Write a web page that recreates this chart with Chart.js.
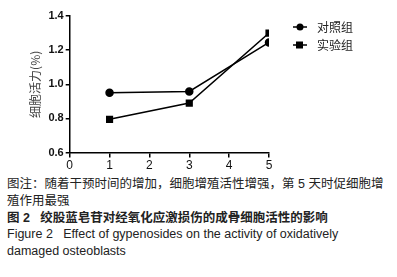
<!DOCTYPE html>
<html>
<head>
<meta charset="utf-8">
<script src="https://cdn.jsdelivr.net/npm/chart.js@4"></script>
<style>
  html, body { margin: 0; padding: 0; background: #fff; }
  body { width: 397px; height: 277px; overflow: hidden; }
  #wrap { position: relative; width: 397px; height: 174px; }
  .cap { font-family: "Liberation Sans", "Noto Sans CJK SC", sans-serif; font-size: 12.5px; color: #222; line-height: 16.8px; padding-left: 7px; width: 384px; }
</style>
</head>
<body>
<div id="wrap"><canvas id="c" width="397" height="174"></canvas></div>
<div class="cap" style="margin-top:2px">图注：随着干预时间的增加，细胞增殖活性增强，第 5 天时促细胞增殖作用最强</div>
<div class="cap" style="font-weight:bold">图 2&nbsp;&nbsp;&nbsp;绞股蓝皂苷对经氧化应激损伤的成骨细胞活性的影响</div>
<div class="cap">Figure 2&nbsp;&nbsp;&nbsp;Effect of gypenosides on the activity of oxidatively damaged osteoblasts</div>
<script>
const days = [1, 3, 5];
const seriesNames = ['对照组', '实验组'];
const control = [0.95, 0.958, 1.245];
const experiment = [0.795, 0.89, 1.30];
const xTicks = [0, 1, 2, 3, 4, 5];
const yTicks = [0.6, 0.8, 1.0, 1.2, 1.4];

function points(vals) {
    return days.map(function(d, i) { return { x: d, y: vals[i] }; });
}

const tickFont = { family: 'Liberation Sans', size: 11, weight: 'bold' };

// legend drawn with line through marker, like the original
const lineLegend = {
    id: 'lineLegend',
    afterDraw: function(chart) {
        const ctx = chart.ctx;
        const ds = chart.data.datasets;
        ctx.save();
        ds.forEach(function(d, i) {
            const y = 27 + i * 18;
            ctx.strokeStyle = '#000';
            ctx.lineWidth = 1.5;
            ctx.beginPath();
            ctx.moveTo(293, y);
            ctx.lineTo(307, y);
            ctx.stroke();
            ctx.fillStyle = '#000';
            if (d.pointStyle === 'rect') {
                ctx.fillRect(296, y - 3.5, 7, 7);
            } else {
                ctx.beginPath();
                ctx.arc(300, y, 3.5, 0, Math.PI * 2);
                ctx.fill();
            }
            ctx.fillStyle = '#222';
            ctx.font = '12px "Noto Sans CJK SC"';
            ctx.textBaseline = 'middle';
            ctx.fillText(d.label, 317, y);
        });
        ctx.restore();
    }
};

new Chart(document.getElementById('c').getContext('2d'), {
    type: 'line',
    data: {
        datasets: [{
            label: seriesNames[0],
            data: points(control),
            borderColor: '#000',
            backgroundColor: '#000',
            borderWidth: 1.5,
            pointStyle: 'circle',
            pointRadius: 3.5,
            pointHoverRadius: 3.5
        }, {
            label: seriesNames[1],
            data: points(experiment),
            borderColor: '#000',
            backgroundColor: '#000',
            borderWidth: 1.5,
            pointStyle: 'rect',
            pointRadius: 4,
            pointHoverRadius: 4
        }]
    },
    options: {
        responsive: false,
        animation: false,
        layout: { padding: { left: 24, right: 128, top: 16, bottom: 0 } },
        plugins: { legend: { display: false }, tooltip: { enabled: false } },
        scales: {
            x: {
                type: 'linear',
                min: 0,
                max: 5,
                afterBuildTicks: function(axis) { axis.ticks = xTicks.map(function(v) { return { value: v }; }); },
                ticks: { color: '#111', font: { family: 'Liberation Sans', size: 12 }, padding: 1 },
                grid: { drawOnChartArea: false, tickLength: 5, color: '#000', lineWidth: 1.5 },
                border: { color: '#000', width: 1.5 }
            },
            y: {
                min: 0.6,
                max: 1.4,
                afterBuildTicks: function(axis) { axis.ticks = yTicks.map(function(v) { return { value: v }; }); },
                ticks: { color: '#111', font: tickFont, padding: 2, callback: function(v) { return v.toFixed(1); } },
                grid: { drawOnChartArea: false, tickLength: 4, color: '#000', lineWidth: 1.5 },
                border: { color: '#000', width: 1.5 },
                title: { display: true, text: '细胞活力(%)', color: '#444', font: { family: 'Noto Sans CJK SC', size: 12 }, padding: 4 }
            }
        }
    },
    plugins: [lineLegend]
});
</script>
</body>
</html>
